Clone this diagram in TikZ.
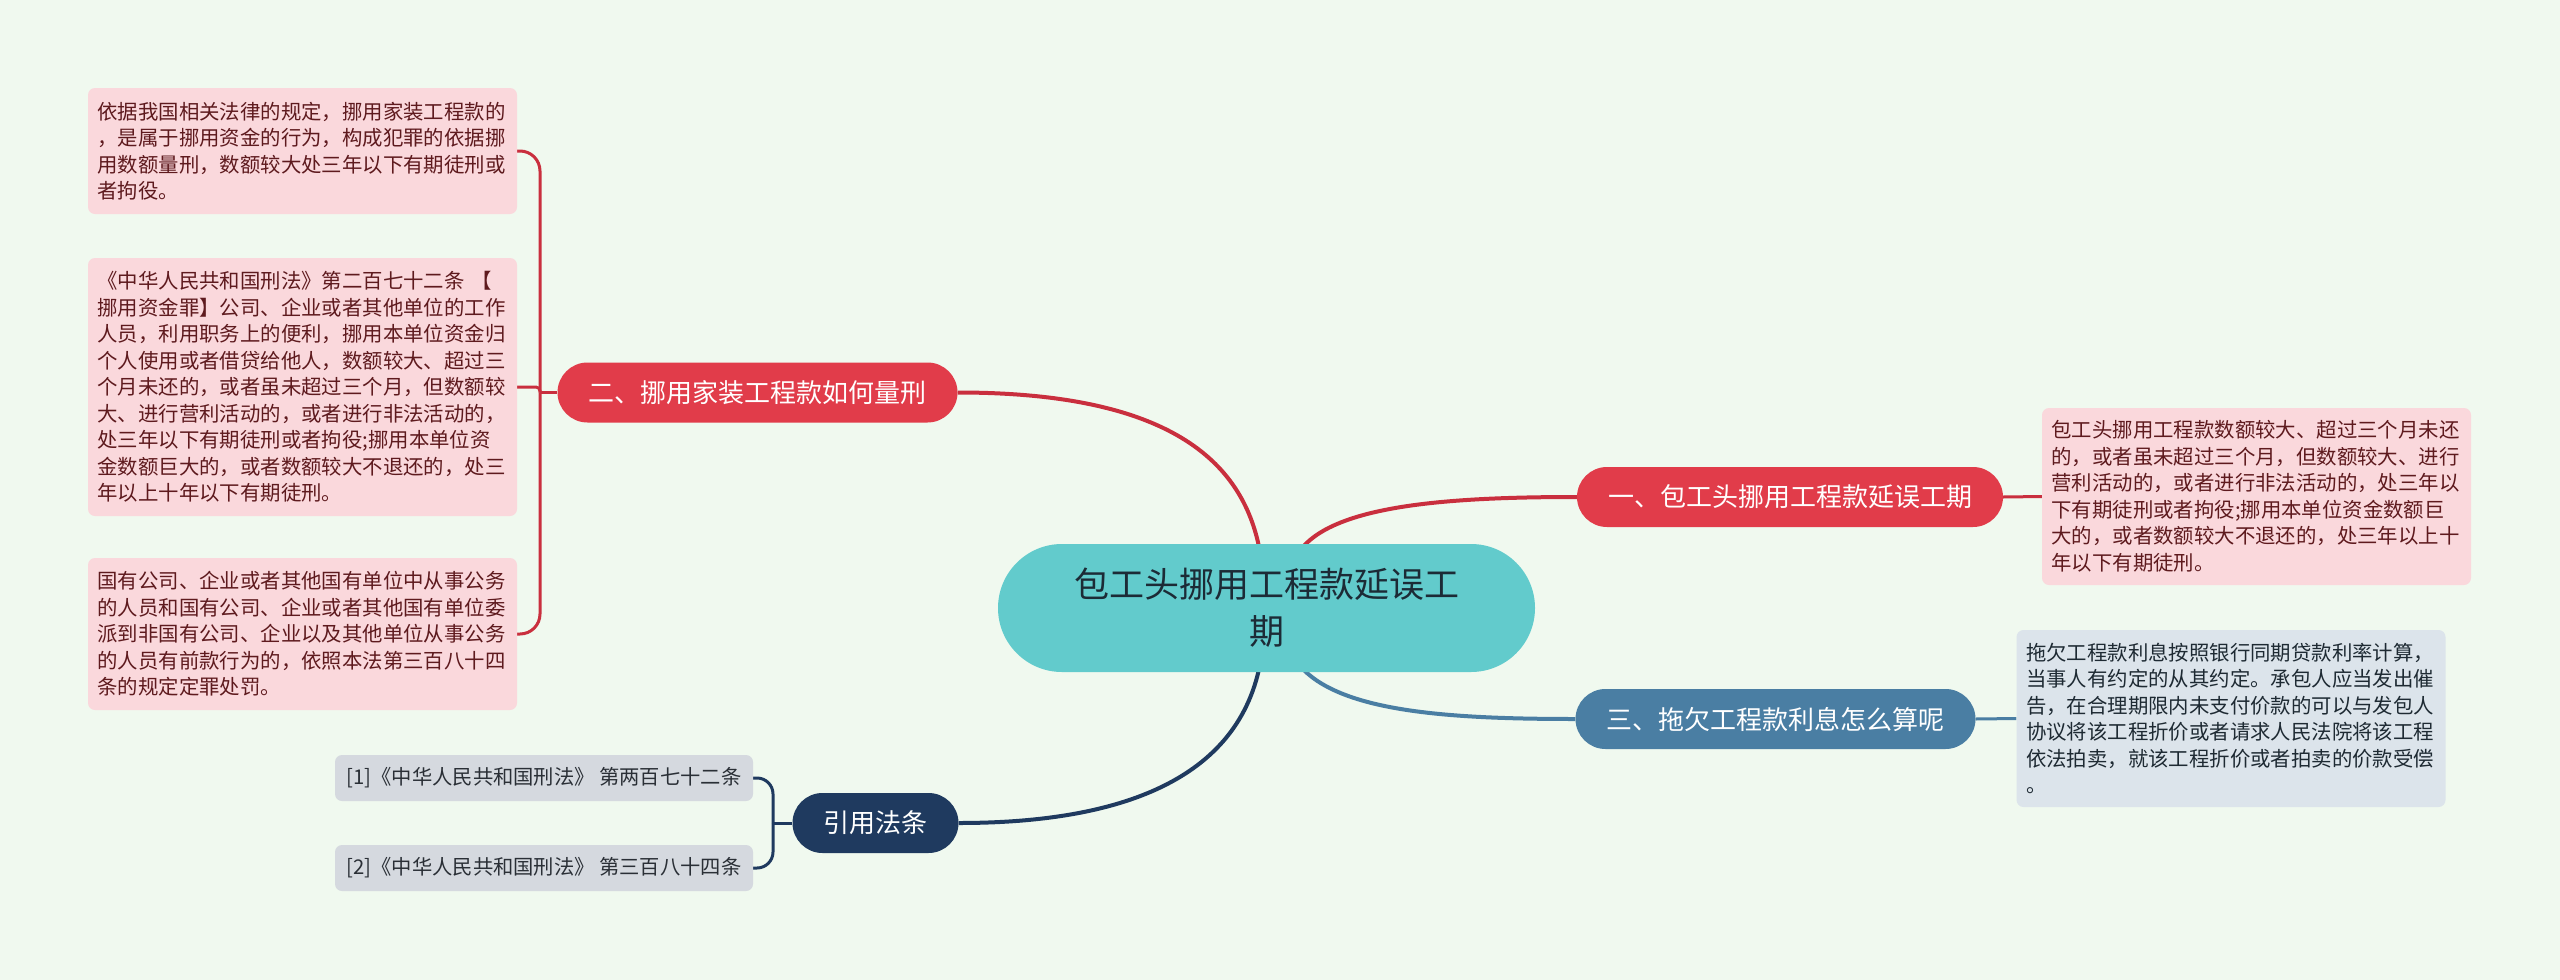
\documentclass[tikz,border=0pt]{standalone}
\usepackage{fontspec}
\setmainfont{Noto Sans CJK SC}
\usetikzlibrary{calc}
\definecolor{bgc}{HTML}{F0F9EF}
\definecolor{rootfill}{HTML}{62CBCC}
\definecolor{roottext}{HTML}{1C2B36}
\definecolor{redfill}{HTML}{E13C4A}
\definecolor{redline}{HTML}{C92F3E}
\definecolor{bluefill}{HTML}{4A7EA3}
\definecolor{navyfill}{HTML}{1F3A5F}
\definecolor{pinkfill}{HTML}{FAD8DC}
\definecolor{pinktext}{HTML}{5E1A1E}
\definecolor{greyblue}{HTML}{DCE4EB}
\definecolor{greytext}{HTML}{1E2A33}
\definecolor{citefill}{HTML}{D5D9DF}
\definecolor{citetext}{HTML}{2A2F36}
\pgfdeclarelayer{bg}
\pgfsetlayers{bg,main}
\tikzset{
  rootnode/.style={fill=rootfill, rounded corners=64pt, minimum width=537pt, minimum height=128pt,
    inner sep=0pt, align=center, text=roottext, font=\fontsize{35}{47}\selectfont},
  branchnode/.style={rounded corners=30pt, minimum height=60pt, inner xsep=31pt, inner ysep=0pt,
    text=white, font=\fontsize{26}{30}\selectfont},
  leafbase/.style={rounded corners=7pt, text width=410pt, inner xsep=9.5pt, inner ysep=0pt,
    align=left, font=\fontsize{20.4}{26.5}\selectfont},
  pinkleaf/.style={leafbase, fill=pinkfill, text=pinktext},
  blueleaf/.style={leafbase, fill=greyblue, text=greytext},
  citeleaf/.style={rounded corners=7pt, fill=citefill, text=citetext, minimum width=418pt,
    minimum height=46pt, inner sep=0pt, font=\fontsize{20.3}{26}\selectfont},
  conn/.style={line width=4pt},
  subconn/.style={line width=3pt},
}
\begin{document}
\begin{tikzpicture}[x=1pt,y=-1pt]
\begin{pgfonlayer}{bg}
  \fill[bgc] (0,0) rectangle (2560,980);
\end{pgfonlayer}
\useasboundingbox (0,0) rectangle (2560,980);

% root
\node[rootnode] (root) at (1266.5,608) {包工头挪用工程款延误工\\期};

% branches
\node[branchnode, fill=redfill] (b1) at (1790,497) {一、包工头挪用工程款延误工期};
\node[branchnode, fill=redfill] (b2) at (757.5,392.5) {二、挪用家装工程款如何量刑};
\node[branchnode, fill=bluefill] (b3) at (1775.5,719) {三、拖欠工程款利息怎么算呢};
\node[branchnode, fill=navyfill] (b4) at (875.5,823) {引用法条};

% leaves right
\node[pinkleaf, minimum height=177pt] (l1) at (2256.5,496.5) {包工头挪用工程款数额较大、超过三个月未还\\的，或者虽未超过三个月，但数额较大、进行\\营利活动的，或者进行非法活动的，处三年以\\下有期徒刑或者拘役;挪用本单位资金数额巨\\大的，或者数额较大不退还的，处三年以上十\\年以下有期徒刑。};
\node[blueleaf, minimum height=177pt] (l3) at (2231,718.5) {拖欠工程款利息按照银行同期贷款利率计算，\\当事人有约定的从其约定。承包人应当发出催\\告，在合理期限内未支付价款的可以与发包人\\协议将该工程折价或者请求人民法院将该工程\\依法拍卖，就该工程折价或者拍卖的价款受偿\\。};

% leaves left
\node[pinkleaf, minimum height=126pt] (la) at (302.5,151) {依据我国相关法律的规定，挪用家装工程款的\\，是属于挪用资金的行为，构成犯罪的依据挪\\用数额量刑，数额较大处三年以下有期徒刑或\\者拘役。};
\node[pinkleaf, minimum height=258pt] (lb) at (302.5,387) {《中华人民共和国刑法》第二百七十二条 【\\挪用资金罪】公司、企业或者其他单位的工作\\人员，利用职务上的便利，挪用本单位资金归\\个人使用或者借贷给他人，数额较大、超过三\\个月未还的，或者虽未超过三个月，但数额较\\大、进行营利活动的，或者进行非法活动的，\\处三年以下有期徒刑或者拘役;挪用本单位资\\金数额巨大的，或者数额较大不退还的，处三\\年以上十年以下有期徒刑。};
\node[pinkleaf, minimum height=152pt] (lc) at (302.5,634) {国有公司、企业或者其他国有单位中从事公务\\的人员和国有公司、企业或者其他国有单位委\\派到非国有公司、企业以及其他单位从事公务\\的人员有前款行为的，依照本法第三百八十四\\条的规定定罪处罚。};

% citations
\node[citeleaf] (c1) at (544,778) {[1]《中华人民共和国刑法》 第两百七十二条};
\node[citeleaf] (c2) at (544,868) {[2]《中华人民共和国刑法》 第三百八十四条};

\coordinate (j2) at (540,392.5);
\coordinate (j4) at (773,823);

\begin{pgfonlayer}{bg}
  % root to branches
  \draw[conn, redline] ($(root.north)+(-7.5,3)$) .. controls (1240,455) and (1160,392.5) .. (b2.east);
  \draw[conn, redline] ($(root.north)+(36.5,3)$) .. controls (1340,505) and (1450,497) .. (b1.west);
  \draw[conn, bluefill] ($(root.south)+(36.5,-3)$) .. controls (1345,712) and (1450,719) .. (b3.west);
  \draw[conn, navyfill] ($(root.south)+(-7.5,-3)$) .. controls (1232,790) and (1100,823) .. (b4.east);
  % branch to leaves
  \draw[subconn, redline] (b1.east) -- (l1.west);
  \draw[subconn, bluefill] (b3.east) -- (l3.west);
  \draw[subconn, redline] (b2.west) -- (j2);
  \draw[subconn, redline, rounded corners=20pt] (j2) |- (la.east);
  \draw[subconn, redline, rounded corners=4pt] (j2) |- (lb.east);
  \draw[subconn, redline, rounded corners=20pt] (j2) |- (lc.east);
  \draw[subconn, navyfill] (b4.west) -- (j4);
  \draw[subconn, navyfill, rounded corners=16pt] (j4) |- (c1.east);
  \draw[subconn, navyfill, rounded corners=16pt] (j4) |- (c2.east);
\end{pgfonlayer}
\end{tikzpicture}
\end{document}
